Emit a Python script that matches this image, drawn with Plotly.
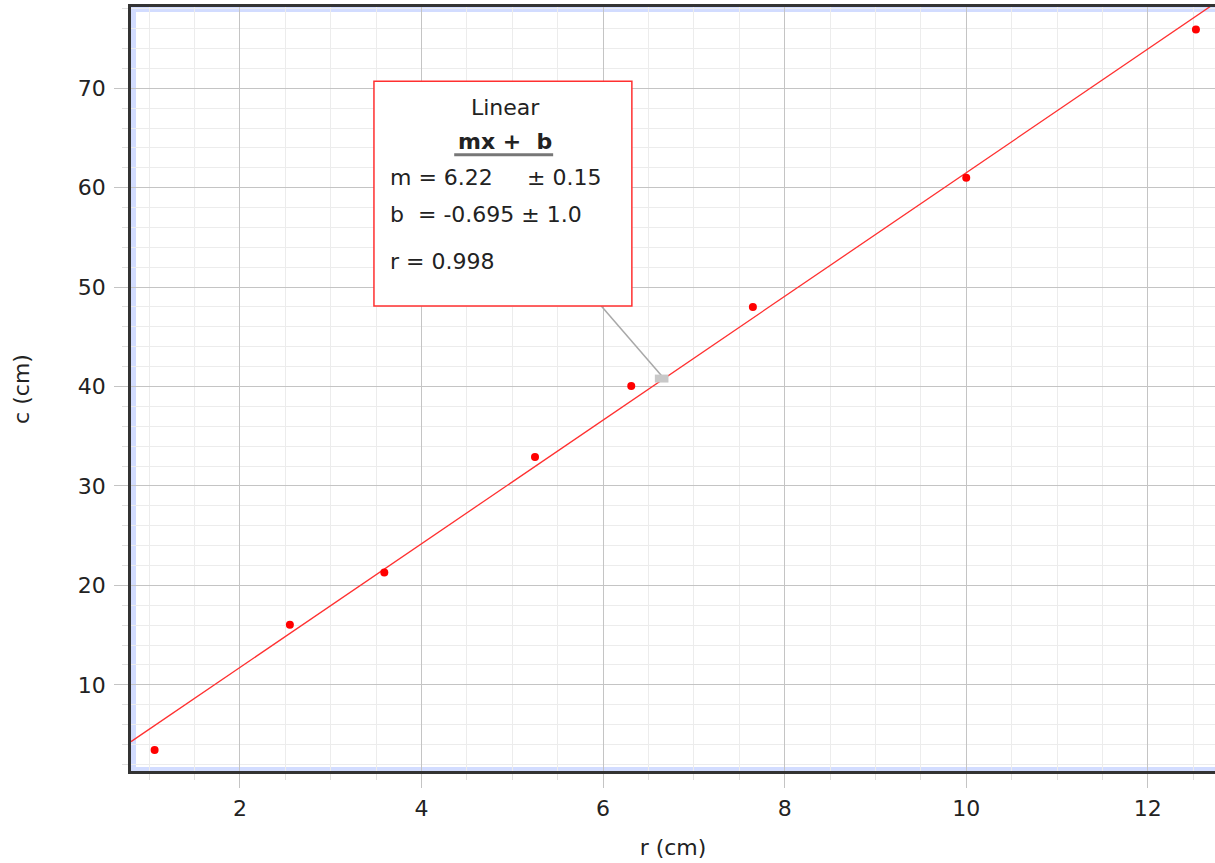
import plotly.graph_objects as go

# Data
r_cm = [1.06, 2.55, 3.59, 5.25, 6.31, 7.65, 10.0, 12.53]
c_cm = [3.45, 16.05, 21.3, 32.9, 40.05, 48.0, 61.0, 75.9]
slope = 6.22
intercept = -0.695
fit_x = [0.8, 12.74]
fit_y = [slope * x + intercept for x in fit_x]
x_ticks = [2, 4, 6, 8, 10, 12]
y_ticks = [10, 20, 30, 40, 50, 60, 70]

FONT = "DejaVu Sans"
TXT = "#222222"

fig = go.Figure()
fig.add_trace(go.Scatter(x=fit_x, y=fit_y, mode="lines",
                         line=dict(color="#ff3030", width=1.3),
                         showlegend=False, hoverinfo="skip"))
fig.add_trace(go.Scatter(x=r_cm, y=c_cm, mode="markers",
                         marker=dict(color="#ff0000", size=8),
                         showlegend=False))

shapes = []
# light blue inner strips along the frame
shapes.append(dict(type="rect", xref="paper", yref="paper", xsizemode="pixel", xanchor=0,
                   x0=0, x1=5, y0=0, y1=1, fillcolor="#d2dcff", line=dict(width=0), layer="below"))
shapes.append(dict(type="rect", xref="paper", yref="paper", ysizemode="pixel", yanchor=1,
                   x0=0, x1=1, y0=-5, y1=0, fillcolor="#d2dcff", line=dict(width=0), layer="below"))
shapes.append(dict(type="rect", xref="paper", yref="paper", ysizemode="pixel", yanchor=0,
                   x0=0, x1=1, y0=0, y1=4, fillcolor="#d2dcff", line=dict(width=0), layer="below"))
# connector line
shapes.append(dict(type="line", xref="x", yref="y", x0=5.98, y0=48.1, x1=6.68, y1=40.7,
                   line=dict(color="#a8a8a8", width=1.5)))
shapes.append(dict(type="rect", xref="x", yref="y", x0=6.57, y0=40.4, x1=6.72, y1=41.2,
                   fillcolor="#c8c8c8", line=dict(width=0)))
# annotation box
shapes.append(dict(type="rect", xref="x", yref="y", x0=3.476, x1=6.317, y0=48.1, y1=70.69,
                   fillcolor="white", line=dict(color="#ff3030", width=1.5)))
# underline under mx + b
shapes.append(dict(type="line", xref="x", yref="y", x0=4.36, x1=5.45, y0=63.3, y1=63.3,
                   line=dict(color="#777777", width=3)))

annotations = [
    dict(x=4.92, y=68.1, text="Linear", xanchor="center", yanchor="middle"),
    dict(x=4.92, y=64.6, text="<b>mx +  b</b>", xanchor="center", yanchor="middle"),
    dict(x=3.63, y=61.0, text="m = 6.22", xanchor="left", yanchor="middle"),
    dict(x=5.14, y=61.0, text="± 0.15", xanchor="left", yanchor="middle"),
    dict(x=3.63, y=57.3, text="b  = -0.695 ± 1.0", xanchor="left", yanchor="middle"),
    dict(x=3.63, y=52.55, text="r = 0.998", xanchor="left", yanchor="middle"),
]
for a in annotations:
    a.update(xref="x", yref="y", showarrow=False, font=dict(family=FONT, size=22, color=TXT))

fig.update_layout(
    width=1215, height=863,
    margin=dict(l=131, r=0, t=7, b=92),
    paper_bgcolor="white", plot_bgcolor="white",
    font=dict(family=FONT, size=22, color=TXT),
    shapes=shapes, annotations=annotations,
    showlegend=False,
)
fig.update_xaxes(
    range=[0.8, 12.74], tickvals=x_ticks, ticktext=[str(v) for v in x_ticks],
    tickfont=dict(family=FONT, size=22, color=TXT),
    showgrid=True, gridcolor="#c4c4c4", gridwidth=1.3,
    showline=True, linecolor="#333333", linewidth=2.5, mirror=True,
    ticks="outside", ticklen=14, tickcolor="#c4c4c4", tickwidth=1.3,
    ticklabelstandoff=2,
    minor=dict(dtick=0.5, tick0=0, showgrid=True, gridcolor="#ececec", gridwidth=1.3,
               ticks="outside", ticklen=6, tickcolor="#e0e0e0"),
    zeroline=False,
    title=dict(text="r (cm)", font=dict(family=FONT, size=22, color=TXT), standoff=20),
)
fig.update_yaxes(
    range=[1.33, 78.17], tickvals=y_ticks, ticktext=[str(v) for v in y_ticks],
    tickfont=dict(family=FONT, size=22, color=TXT),
    showgrid=True, gridcolor="#c4c4c4", gridwidth=1.3,
    showline=True, linecolor="#333333", linewidth=2.5, mirror=False,
    ticks="outside", ticklen=14, tickcolor="#c4c4c4", tickwidth=1.3,
    ticklabelstandoff=4,
    minor=dict(dtick=2, tick0=0, showgrid=True, gridcolor="#ececec", gridwidth=1.3,
               ticks="outside", ticklen=6, tickcolor="#e0e0e0"),
    zeroline=False,
    title=dict(text="c (cm)", font=dict(family=FONT, size=22, color=TXT), standoff=43),
)

fig.write_html("out.html", config={"displayModeBar": False},
               post_script="document.body.style.margin='0';")
